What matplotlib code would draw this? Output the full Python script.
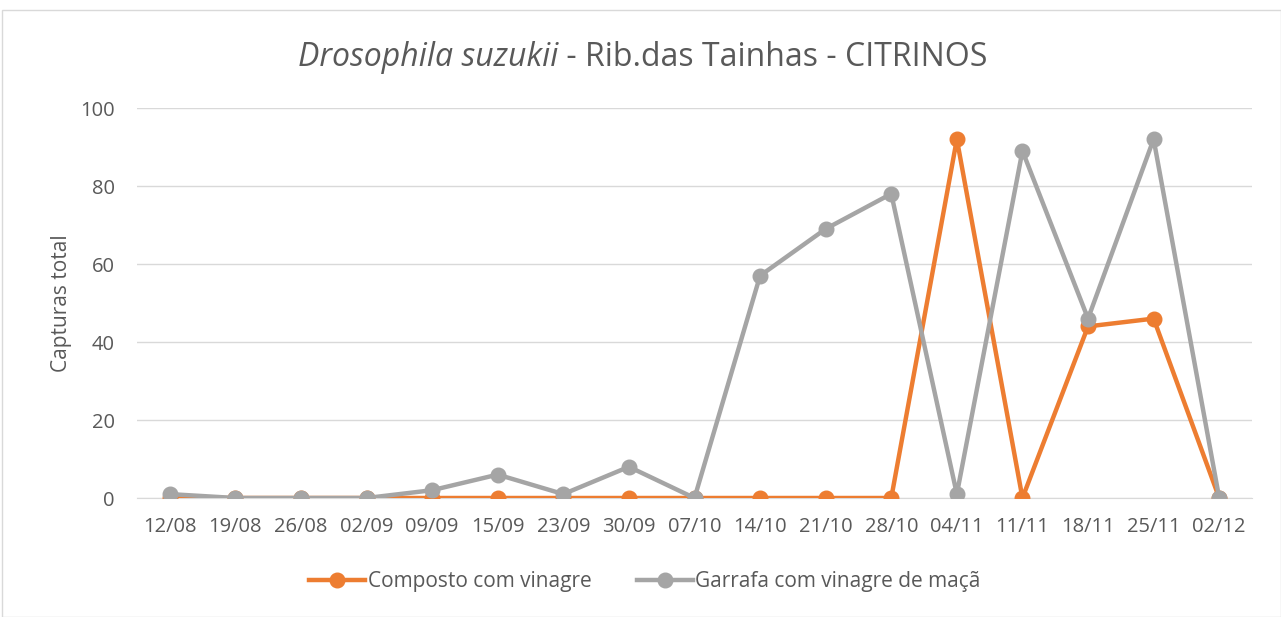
import matplotlib
matplotlib.use("Agg")
import matplotlib.pyplot as plt
from matplotlib.patches import Rectangle

dates = ["12/08", "19/08", "26/08", "02/09", "09/09", "15/09", "23/09", "30/09", "07/10",
         "14/10", "21/10", "28/10", "04/11", "11/11", "18/11", "25/11", "02/12"]
composto = [0, 0, 0, 0, 0, 0, 0, 0, 0, 0, 0, 0, 92, 0, 44, 46, 0]
garrafa = [1, 0, 0, 0, 2, 6, 1, 8, 0, 57, 69, 78, 1, 89, 46, 92, 0]

plt.rcParams['font.family'] = ['Open Sans', 'DejaVu Sans']
txt = '#595959'

fig = plt.figure(figsize=(12.81, 6.17), dpi=100)
fig.patches.append(Rectangle((2/1281, 0), 1 - 2/1281, 1 - 10/617, transform=fig.transFigure,
                             fill=False, edgecolor='#D9D9D9', linewidth=1))
ax = fig.add_axes([137/1281, 1 - 498/617, (1252 - 137)/1281, (498 - 108)/617])

x = list(range(len(dates)))
ax.plot(x, composto, color='#ED7D31', lw=3.2, marker='o', markersize=10.5,
        label='Composto com vinagre', zorder=3)
ax.plot(x, garrafa, color='#A5A5A5', lw=3.2, marker='o', markersize=10.5,
        label='Garrafa com vinagre de maçã', zorder=4)

ax.set_xlim(-0.5, len(dates) - 0.5)
ax.set_ylim(0, 100)
ax.set_yticks([0, 20, 40, 60, 80, 100])
ax.set_xticks(x)
ax.set_xticklabels(dates)
ax.tick_params(axis='both', length=0, labelsize=14.5, colors=txt)
ax.tick_params(axis='x', pad=14)
ax.tick_params(axis='y', pad=16)
ax.grid(axis='y', color='#D9D9D9', lw=1)
ax.set_axisbelow(True)
for s in ['top', 'right', 'left']:
    ax.spines[s].set_visible(False)
ax.spines['bottom'].set_color('#D9D9D9')
ax.set_ylabel('Capturas total', fontsize=15, color=txt, labelpad=6)

t1 = fig.text(0, 0, 'Drosophila suzukii', fontsize=23, style='italic', color=txt)
t2 = fig.text(0, 0, ' - Rib.das Tainhas - CITRINOS', fontsize=23, color=txt)
fig.canvas.draw()
r = fig.canvas.get_renderer()
w1 = t1.get_window_extent(r).width
w2 = t2.get_window_extent(r).width
x0 = (643 - (w1 + w2) / 2)
yb = 617 - 66
t1.set_position((x0 / 1281, yb / 617))
t2.set_position(((x0 + w1) / 1281, yb / 617))

ax.legend(loc='center', bbox_to_anchor=(645/1281, 1 - 582/617), bbox_transform=fig.transFigure,
          ncol=2, frameon=False, fontsize=15, labelcolor=txt, handlelength=2.7, columnspacing=2.2,
          handletextpad=0.1)

fig.savefig('out.png', dpi=100)
